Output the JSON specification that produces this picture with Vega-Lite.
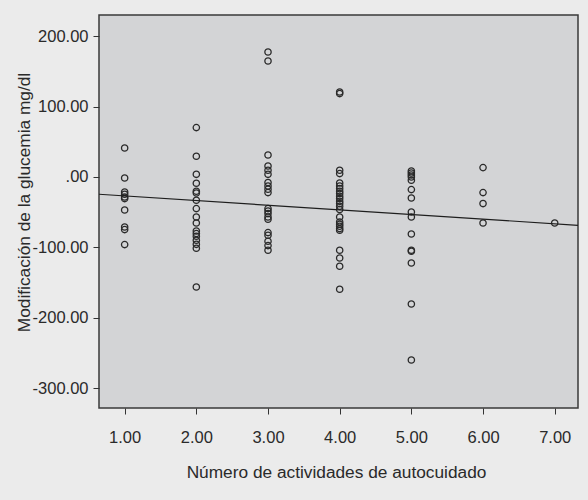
{
  "$schema": "https://vega.github.io/schema/vega-lite/v6.json",
  "width": 479,
  "height": 393,
  "autosize": {"type": "none"},
  "padding": {"left": 99, "top": 15, "right": 10, "bottom": 92},
  "background": "#ebebeb",
  "config": {
    "font": "Liberation Sans",
    "view": {"fill": "#d3d4d6", "stroke": "#3a3a3a", "strokeWidth": 1.5},
    "axis": {
      "domain": false,
      "grid": false,
      "ticks": true,
      "tickColor": "#333333",
      "tickSize": 6,
      "tickWidth": 1,
      "labelFont": "Liberation Sans",
      "labelFontSize": 16.5,
      "labelColor": "#2a2a2a",
      "titleFont": "Liberation Sans",
      "titleFontSize": 17.3,
      "titleFontWeight": "normal",
      "titleColor": "#2a2a2a"
    }
  },
  "datasets": {
    "pts": [
      {"act": 1, "glu": 41.1}, {"act": 1, "glu": -1.4}, {"act": 1, "glu": -21.3}, {"act": 1, "glu": -24.5}, {"act": 1, "glu": -28.4},
      {"act": 1, "glu": -30.6}, {"act": 1, "glu": -46.8}, {"act": 1, "glu": -70.9}, {"act": 1, "glu": -74.6}, {"act": 1, "glu": -95.9},
      {"act": 2, "glu": 70.1}, {"act": 2, "glu": 29.4}, {"act": 2, "glu": 3.8}, {"act": 2, "glu": -8.9}, {"act": 2, "glu": -20.3},
      {"act": 2, "glu": -22.7}, {"act": 2, "glu": -33.0}, {"act": 2, "glu": -44.8}, {"act": 2, "glu": -56.7}, {"act": 2, "glu": -65.2},
      {"act": 2, "glu": -76.6}, {"act": 2, "glu": -80.3}, {"act": 2, "glu": -84.1}, {"act": 2, "glu": -89.8}, {"act": 2, "glu": -95.5},
      {"act": 2, "glu": -101.1}, {"act": 2, "glu": -156.0},
      {"act": 3, "glu": 177.3}, {"act": 3, "glu": 164.5}, {"act": 3, "glu": 31.2}, {"act": 3, "glu": 15.6}, {"act": 3, "glu": 9.5},
      {"act": 3, "glu": 3.8}, {"act": 3, "glu": -7.9}, {"act": 3, "glu": -12.8}, {"act": 3, "glu": -17.4}, {"act": 3, "glu": -22.1},
      {"act": 3, "glu": -44.8}, {"act": 3, "glu": -48.2}, {"act": 3, "glu": -51.9}, {"act": 3, "glu": -56.7}, {"act": 3, "glu": -60.0},
      {"act": 3, "glu": -78.9}, {"act": 3, "glu": -82.7}, {"act": 3, "glu": -91.2}, {"act": 3, "glu": -97.3}, {"act": 3, "glu": -104.0},
      {"act": 4, "glu": 120.6}, {"act": 4, "glu": 118.3}, {"act": 4, "glu": 9.5}, {"act": 4, "glu": 4.8}, {"act": 4, "glu": -8.5},
      {"act": 4, "glu": -12.8}, {"act": 4, "glu": -16.5}, {"act": 4, "glu": -20.3}, {"act": 4, "glu": -23.5}, {"act": 4, "glu": -27.4},
      {"act": 4, "glu": -30.6}, {"act": 4, "glu": -34.5}, {"act": 4, "glu": -37.7}, {"act": 4, "glu": -41.6}, {"act": 4, "glu": -46.2},
      {"act": 4, "glu": -56.7}, {"act": 4, "glu": -63.8}, {"act": 4, "glu": -67.1}, {"act": 4, "glu": -69.9}, {"act": 4, "glu": -73.2},
      {"act": 4, "glu": -75.6}, {"act": 4, "glu": -104.0}, {"act": 4, "glu": -114.9}, {"act": 4, "glu": -126.7}, {"act": 4, "glu": -159.3},
      {"act": 5, "glu": 8.5}, {"act": 5, "glu": 5.7}, {"act": 5, "glu": 2.8}, {"act": 5, "glu": 0.0}, {"act": 5, "glu": -4.7},
      {"act": 5, "glu": -17.9}, {"act": 5, "glu": -29.8}, {"act": 5, "glu": -49.6}, {"act": 5, "glu": -56.7}, {"act": 5, "glu": -80.9},
      {"act": 5, "glu": -104.0}, {"act": 5, "glu": -105.4}, {"act": 5, "glu": -122.0}, {"act": 5, "glu": -180.1}, {"act": 5, "glu": -259.6},
      {"act": 6, "glu": 13.3}, {"act": 6, "glu": -22.1}, {"act": 6, "glu": -37.7}, {"act": 6, "glu": -65.2},
      {"act": 7, "glu": -65.2}
    ],
    "fit": [
      {"act": 0.642, "glu": -24.5},
      {"act": 7.325, "glu": -68.5}
    ]
  },
  "encoding": {
    "x": {
      "field": "act",
      "type": "quantitative",
      "scale": {"domain": [0.642, 7.325], "nice": false, "zero": false},
      "axis": {
        "title": "Número de actividades de autocuidado",
        "values": [1, 2, 3, 4, 5, 6, 7],
        "format": ".2f",
        "labelBaseline": "alphabetic",
        "labelPadding": 28,
        "titleBaseline": "alphabetic",
        "titleY": 69,
        "titleX": 237
      }
    },
    "y": {
      "field": "glu",
      "type": "quantitative",
      "scale": {"domain": [-327.7, 229.8], "nice": false, "zero": false},
      "axis": {
        "title": "Modificación de la glucemia mg/dl",
        "values": [-300, -200, -100, 0, 100, 200],
        "labelExpr": "datum.value == 0 ? '.00' : replace(format(datum.value, '.2f'), '\u2212', '-')",
        "labelPadding": 5,
        "labelBaseline": "middle",
        "titleAngle": -90,
        "titleAlign": "center",
        "titleBaseline": "alphabetic",
        "titleX": -70,
        "titleY": 187
      }
    }
  },
  "layer": [
    {
      "data": {"name": "pts"},
      "mark": {"type": "point", "shape": "circle", "filled": false, "size": 40, "stroke": "#2a2a2a", "strokeWidth": 1.3, "opacity": 1}
    },
    {
      "data": {"name": "fit"},
      "mark": {"type": "line", "color": "#1e1e1e", "strokeWidth": 1.2}
    }
  ]
}
